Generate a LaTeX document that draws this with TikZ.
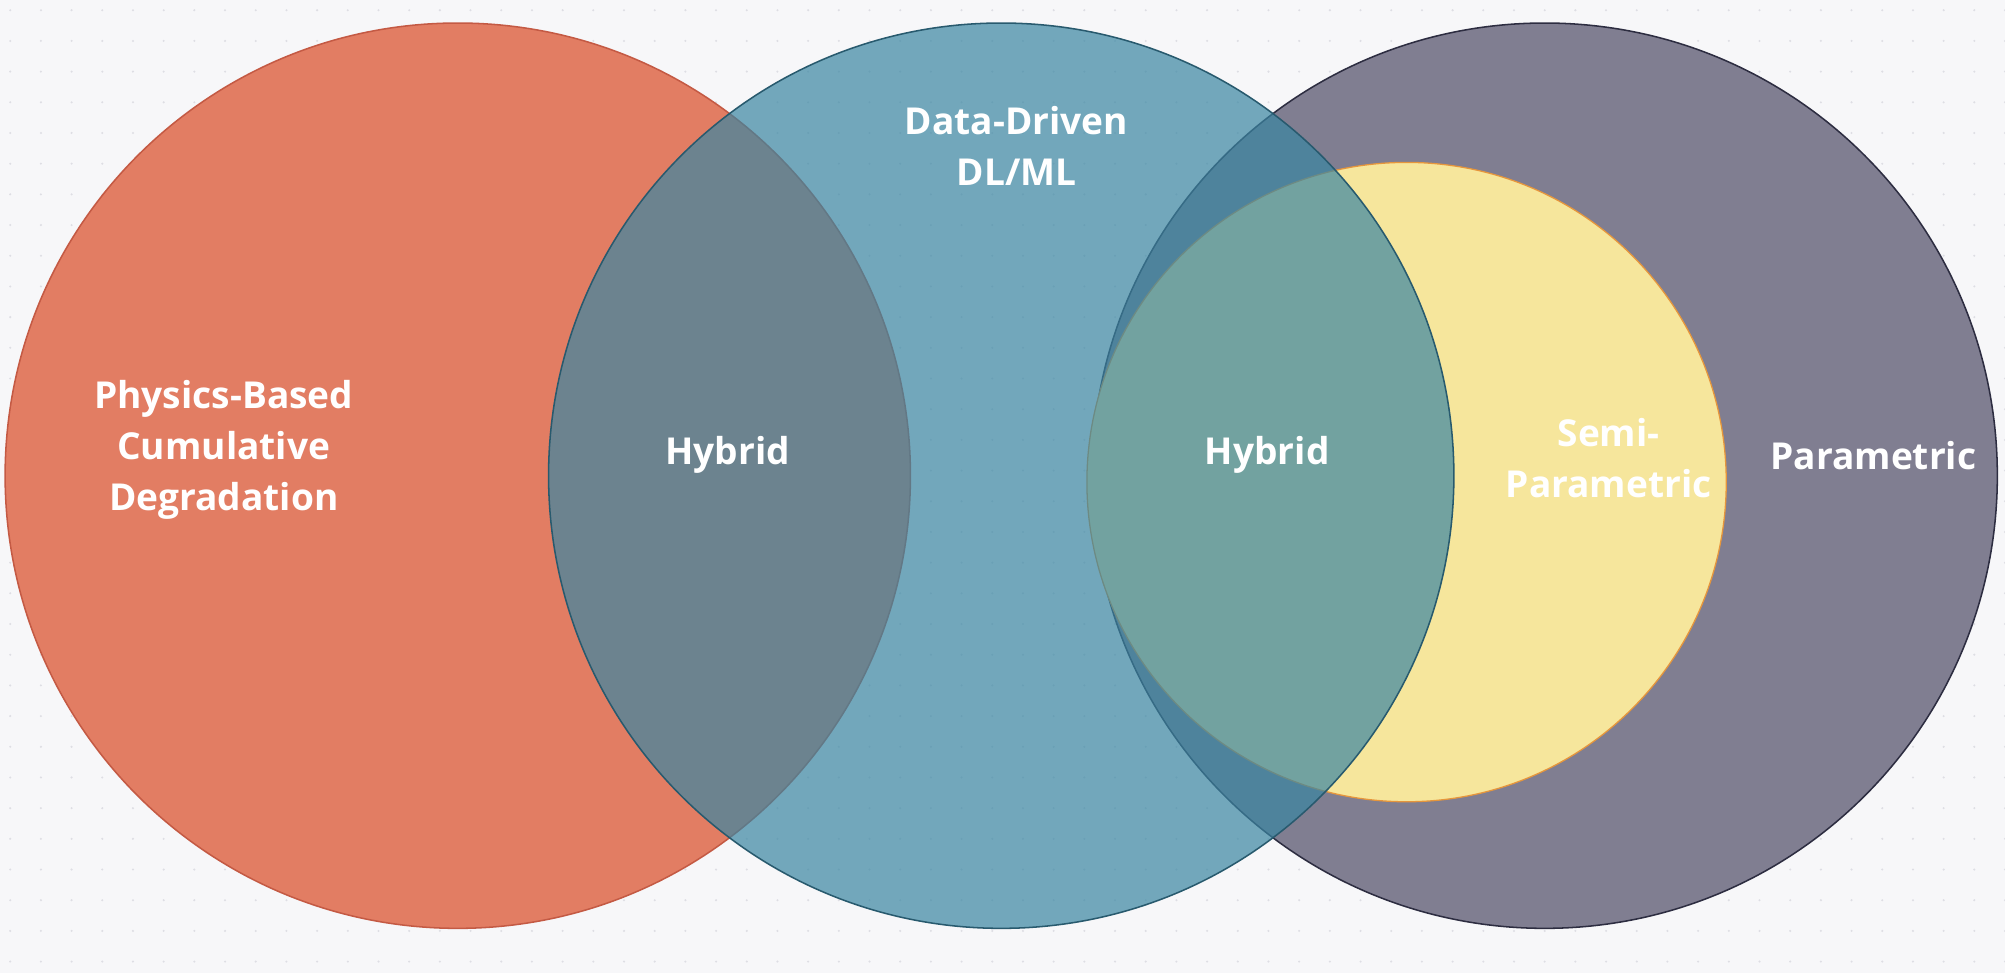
\documentclass[tikz,border=0pt]{standalone}
\usepackage{fontspec}
\setmainfont{Open Sans}
\definecolor{bgc}{RGB}{247,247,249}
\definecolor{dotc}{RGB}{222,222,228}
\definecolor{redc}{RGB}{226,125,99}
\definecolor{redl}{RGB}{196,90,68}
\definecolor{bluec}{RGB}{58,134,162}
\definecolor{bluel}{RGB}{40,90,110}
\definecolor{purc}{RGB}{128,126,145}
\definecolor{purl}{RGB}{45,45,65}
\definecolor{yelc}{RGB}{246,230,156}
\definecolor{yell}{RGB}{230,150,60}
\tikzset{lbl/.style={text=white,align=center,font=\fontsize{29}{40}\selectfont\bfseries}}
\begin{document}
\begin{tikzpicture}[x=1pt,y=-1pt]
\useasboundingbox (0,0) rectangle (1568,761);
\fill[bgc] (0,0) rectangle (1568,761);
\foreach \i in {0,...,65}{\foreach \j in {0,...,32}{\fill[dotc] (\i*24+8,\j*24+8) circle (0.9);}}
\fill[redc] (358,372) circle (354);
\draw[redl,line width=1.2] (358,372) circle (354);
\fill[purc] (1208,372) circle (354);
\draw[purl,line width=1.2] (1208,372) circle (354);
\fill[yelc] (1100,377) circle (250);
\draw[yell,line width=1] (1100,377) circle (250);
\fill[bluec,fill opacity=0.7] (783,372) circle (354);
\draw[bluel,line width=1.2] (783,372) circle (354);
\node[lbl] (pb) at (175,352) {Physics-Based\\Cumulative\\Degradation};
\node[lbl] (h1) at (569,356) {Hybrid};
\node[lbl] (dd) at (795,114) {Data-Driven\\DL/ML};
\node[lbl] (h2) at (991,356) {Hybrid};
\node[lbl] (sp) at (1258,358) {Semi-\\Parametric};
\node[lbl] (pa) at (1465,356) {Parametric};
\end{tikzpicture}
\end{document}
